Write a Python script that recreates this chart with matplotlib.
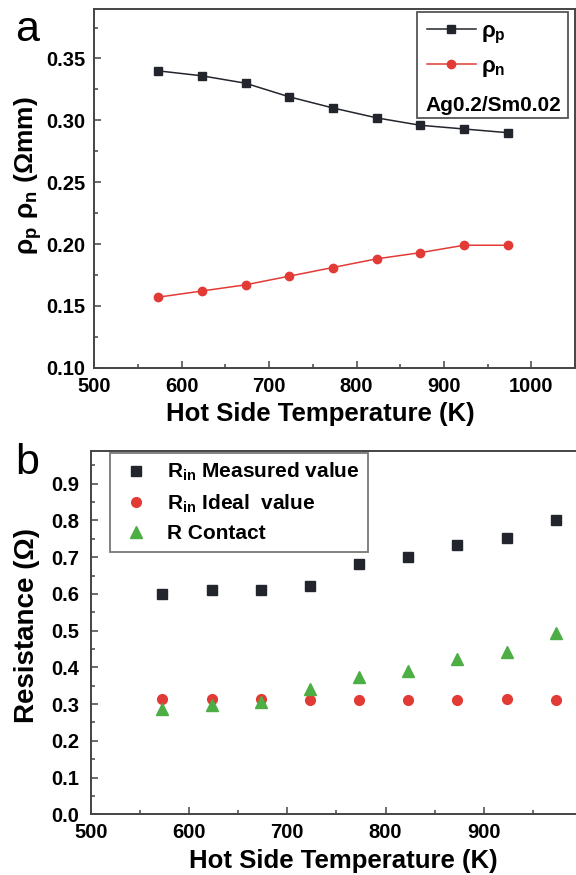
import numpy as np
import matplotlib
matplotlib.use('Agg')
import matplotlib.pyplot as plt
from matplotlib.ticker import MultipleLocator, FormatStrFormatter
from matplotlib.lines import Line2D
from matplotlib.patches import Rectangle

plt.rcParams['font.family'] = 'Liberation Sans'
plt.rcParams['font.weight'] = 'bold'
plt.rcParams['mathtext.fontset'] = 'custom'
plt.rcParams['mathtext.rm'] = 'Liberation Sans:bold'
plt.rcParams['mathtext.it'] = 'Liberation Sans:bold'
plt.rcParams['mathtext.bf'] = 'Liberation Sans:bold'

# Hot side temperatures (K)
temp = [573, 623, 673, 723, 773, 823, 873, 923, 973]

# Resistivity of p and n legs (Ohm mm)
rho_p = [0.340, 0.336, 0.330, 0.319, 0.310, 0.302, 0.296, 0.293, 0.290]
rho_n = [0.157, 0.162, 0.167, 0.174, 0.181, 0.188, 0.193, 0.199, 0.199]

# Internal resistances (Ohm)
r_measured = [0.600, 0.610, 0.610, 0.621, 0.682, 0.700, 0.733, 0.751, 0.802]
r_ideal = [0.315, 0.315, 0.315, 0.312, 0.311, 0.311, 0.311, 0.313, 0.311]
r_contact = [0.287, 0.297, 0.306, 0.342, 0.373, 0.391, 0.424, 0.441, 0.493]

RED = '#e23b36'
DARK = '#22262c'
GREEN = '#4cae44'
SPINE = '#444444'

W, H = 576, 875
fig = plt.figure(figsize=(W / 100, H / 100), dpi=100)


def px_axes(left, top, right, bottom):
    # axes placed by pixel edges (origin top-left)
    return fig.add_axes([left / W, 1 - bottom / H, (right - left) / W, (bottom - top) / H])


ax1 = px_axes(94.3, 9, 575, 367.7)
ax2 = px_axes(90.7, 450.7, 582.2, 814.3)


def style_axes(ax, size):
    ax.tick_params(which='both', direction='in', top=False, right=False,
                   labelsize=size, width=1.1, color=SPINE, pad=6.5)
    ax.tick_params(which='major', length=5)
    ax.tick_params(which='minor', length=3)
    for side in ax.spines.values():
        side.set_linewidth(1.4)
        side.set_color(SPINE)
    for lab in ax.get_xticklabels() + ax.get_yticklabels():
        lab.set_fontweight('bold')


# panel a
ax1.plot(temp, rho_p, '-', color=DARK, lw=1.1, marker='s', ms=5.5)
ax1.plot(temp, rho_n, '-', color=RED, lw=1.1, marker='o', ms=6)
ax1.set_xlim(500, 1050)
ax1.set_ylim(0.10, 0.39)
ax1.set_xticks([500, 600, 700, 800, 900, 1000])
ax1.xaxis.set_minor_locator(MultipleLocator(50))
ax1.set_yticks(np.arange(0.10, 0.36, 0.05))
ax1.yaxis.set_minor_locator(MultipleLocator(0.025))
ax1.yaxis.set_major_formatter(FormatStrFormatter('%.2f'))
style_axes(ax1, 14.5)
ax1.set_xlabel('Hot Side Temperature (K)', fontsize=18.5, fontweight='bold')
ax1.xaxis.set_label_coords(0.4706, -0.128)
ax1.xaxis.label.set_verticalalignment('center')
ax1.set_ylabel(r'$\mathrm{ρ_p\ ρ_n}$ (Ωmm)', fontsize=19, fontweight='bold')
ax1.yaxis.set_label_coords(-0.138, 0.536)
ax1.yaxis.label.set_verticalalignment('center')

handles1 = [Line2D([], [], color=DARK, lw=1.1, marker='s', ms=5.5),
            Line2D([], [], color=RED, lw=1.1, marker='o', ms=6)]
ax1.legend(handles1, [r'$\mathrm{ρ_p}$', r'$\mathrm{ρ_n}$'],
           loc='upper left', bbox_to_anchor=(0.6915, 0.966),
           fontsize=16, frameon=False, handlelength=2.2, handletextpad=0.26,
           borderpad=0.0, labelspacing=0.45, borderaxespad=0.0)
ax1.add_patch(Rectangle((0.671, 0.696), 0.314, 0.296, transform=ax1.transAxes,
                        fill=False, edgecolor='#555555', lw=1.3, zorder=5))
ax1.text(0.690, 0.730, 'Ag0.2/Sm0.02', transform=ax1.transAxes, ha='left',
         va='center', fontsize=15, fontweight='bold')
fig.text(27 / W, 1 - 30 / H, 'a', fontsize=31, fontweight='normal',
         ha='center', va='center')

# panel b
ax2.plot(temp, r_measured, 's', color=DARK, ms=6.5, ls='none',
         label=r'$\mathrm{R_{in}}$ Measured value')
ax2.plot(temp, r_ideal, 'o', color=RED, ms=7, ls='none',
         label=r'$\mathrm{R_{in}}$ Ideal  value')
ax2.plot(temp, r_contact, '^', color=GREEN, ms=8, ls='none',
         label='R Contact')
ax2.set_xlim(500, 1000)
ax2.set_ylim(0.0, 0.99)
ax2.set_xticks([500, 600, 700, 800, 900])
ax2.xaxis.set_minor_locator(MultipleLocator(50))
ax2.set_yticks(np.arange(0.0, 0.91, 0.1))
ax2.yaxis.set_minor_locator(MultipleLocator(0.05))
ax2.yaxis.set_major_formatter(FormatStrFormatter('%.1f'))
style_axes(ax2, 14.5)
ax2.tick_params(axis='y', pad=8)
ax2.set_xlabel('Hot Side Temperature (K)', fontsize=18.5, fontweight='bold')
ax2.xaxis.set_label_coords(0.513, -0.128)
ax2.xaxis.label.set_verticalalignment('center')
ax2.set_ylabel('Resistance (Ω)', fontsize=20, fontweight='bold')
ax2.yaxis.set_label_coords(-0.129, 0.518)
ax2.yaxis.label.set_verticalalignment('center')
leg2 = ax2.legend(loc='upper left', bbox_to_anchor=(0.039, 0.9945), fontsize=15,
                  frameon=True, fancybox=False, edgecolor='#555555',
                  handlelength=1.7, handletextpad=0.64, borderpad=0.4,
                  labelspacing=0.45, borderaxespad=0.0)
leg2.get_frame().set_linewidth(1.3)
fig.text(27 / W, 1 - 463 / H, 'b', fontsize=31, fontweight='normal',
         ha='center', va='center')

fig.savefig('out.png', dpi=100)
